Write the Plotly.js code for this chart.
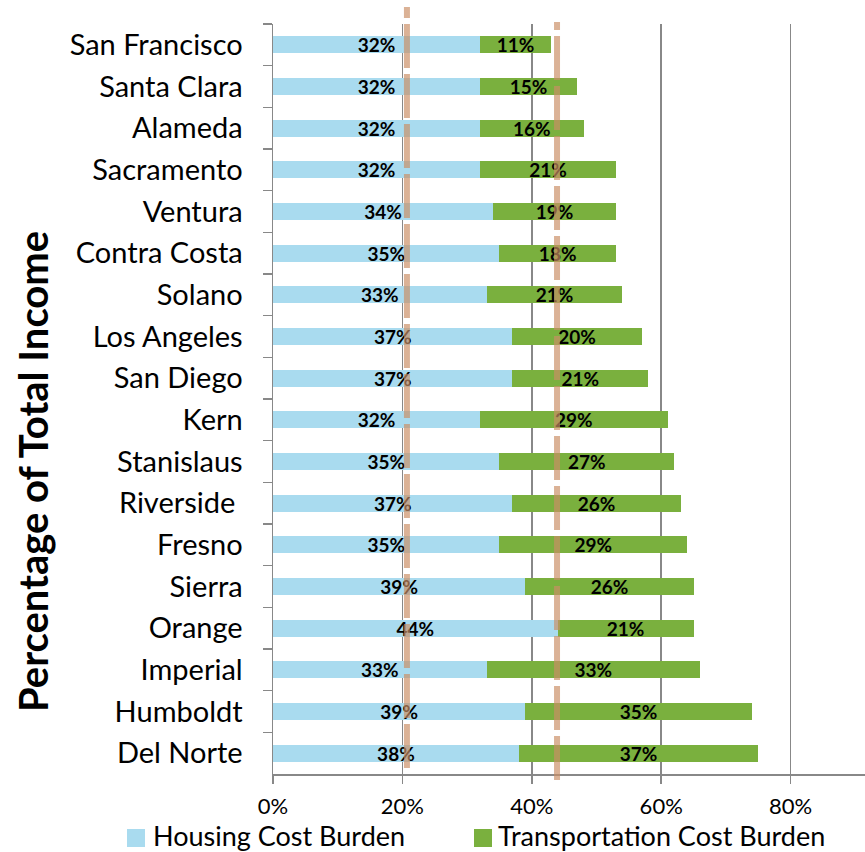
<!DOCTYPE html>
<html>
<head>
<meta charset="utf-8">
<script src="https://cdn.plot.ly/plotly-3.0.1.min.js"></script>
<style>html,body{margin:0;padding:0;background:#fff;}#chart{width:865px;height:852px;}</style>
</head>
<body>
<div id="chart"></div>
<script>
// ---- data ----
const counties = ["San Francisco","Santa Clara","Alameda","Sacramento","Ventura","Contra Costa","Solano","Los Angeles","San Diego","Kern","Stanislaus","Riverside ","Fresno","Sierra","Orange","Imperial","Humboldt","Del Norte"];
const housing = [0.32,0.32,0.32,0.32,0.34,0.35,0.33,0.37,0.37,0.32,0.35,0.37,0.35,0.39,0.44,0.33,0.39,0.38];
const transport = [0.11,0.15,0.16,0.21,0.19,0.18,0.21,0.20,0.21,0.29,0.27,0.26,0.29,0.26,0.21,0.33,0.35,0.37];
const seriesNames = ["Housing Cost Burden","Transportation Cost Burden"];
const referenceLines = [0.207, 0.439];
const xTickVals = [0,0.2,0.4,0.6,0.8];
const xTickText = ["0%","20%","40%","60%","80%"];
const yTitle = "Percentage of Total Income";

const FONT = "Lato, 'Liberation Sans', sans-serif";
const colors = ["#A9DBEF","#7AB03E"];
const labelFont = {family: FONT, size: 19, color: "#000", weight: "bold"};

const traces = [housing, transport].map((vals, i) => ({
  type: "bar",
  orientation: "h",
  name: seriesNames[i],
  y: counties,
  x: vals,
  marker: {color: colors[i]},
  text: vals.map(v => Math.round(v*100) + "%"),
  textposition: "inside",
  insidetextanchor: "middle",
  constraintext: "none",
  textfont: labelFont,
  hoverinfo: "skip",
  showlegend: false
}));

const lineExtents = [[0.008, 1.0227],[-0.008, 1.0027]];
const shapes = referenceLines.map((v, i) => ({
  type: "line", xref: "x", yref: "paper",
  x0: v, x1: v, y0: lineExtents[i][0], y1: lineExtents[i][1],
  line: {color: "rgba(202,142,100,0.68)", width: 6, dash: "44px,6px"},
  layer: "above"
}));

// manual legend
const legendItems = [{sx: 127, tx: 151}, {sx: 474, tx: 496}];
const W = 592, L = 273, H = 750, T = 24;
const px = p => (p - L) / W;
const py = p => (T + H - p) / H;
legendItems.forEach((it, i) => {
  shapes.push({type: "rect", xref: "paper", yref: "paper",
    x0: px(it.sx), x1: px(it.sx + 18), y0: py(847), y1: py(829),
    fillcolor: colors[i], line: {width: 0}});
});
const annotations = legendItems.map((it, i) => ({
  xref: "paper", yref: "paper", x: px(it.tx), y: py(835),
  xanchor: "left", yanchor: "middle", showarrow: false,
  text: seriesNames[i], font: {family: FONT, size: 27, color: "#000"}
}));
annotations.push({
  xref: "paper", yref: "paper", x: px(33), y: py(472),
  xanchor: "center", yanchor: "middle", showarrow: false, textangle: -90,
  text: yTitle, font: {family: FONT, size: 40, color: "#000", weight: "bold"}
});

const layout = {
  width: 865, height: 852,
  margin: {l: L, r: 0, t: T, b: 852 - T - H, pad: 0},
  paper_bgcolor: "#fff", plot_bgcolor: "#fff",
  barmode: "stack",
  bargap: 0.59,
  showlegend: false,
  font: {family: FONT, color: "#000"},
  xaxis: {
    range: [0, W / 647],
    tickvals: xTickVals, ticktext: xTickText,
    showgrid: true, gridcolor: "#888", gridwidth: 1.5,
    zeroline: false,
    showline: true, linecolor: "#888", linewidth: 1.5,
    ticks: "outside", ticklen: 8, tickcolor: "#888", tickwidth: 1.5,
    tickfont: {family: FONT, size: 22, color: "#000"},
    ticklabelstandoff: 4
  },
  yaxis: {
    autorange: "reversed",
    type: "category",
    tickson: "boundaries",
    ticks: "outside", ticklen: 9, tickcolor: "#888", tickwidth: 1.5,
    showline: true, linecolor: "#888", linewidth: 1.5,
    showgrid: false, zeroline: false,
    tickfont: {family: FONT, size: 29, color: "#000"},
    ticklabelstandoff: 23
  },
  shapes: shapes,
  annotations: annotations
};

Plotly.newPlot("chart", traces, layout, {staticPlot: true, displayModeBar: false});
</script>
</body>
</html>
